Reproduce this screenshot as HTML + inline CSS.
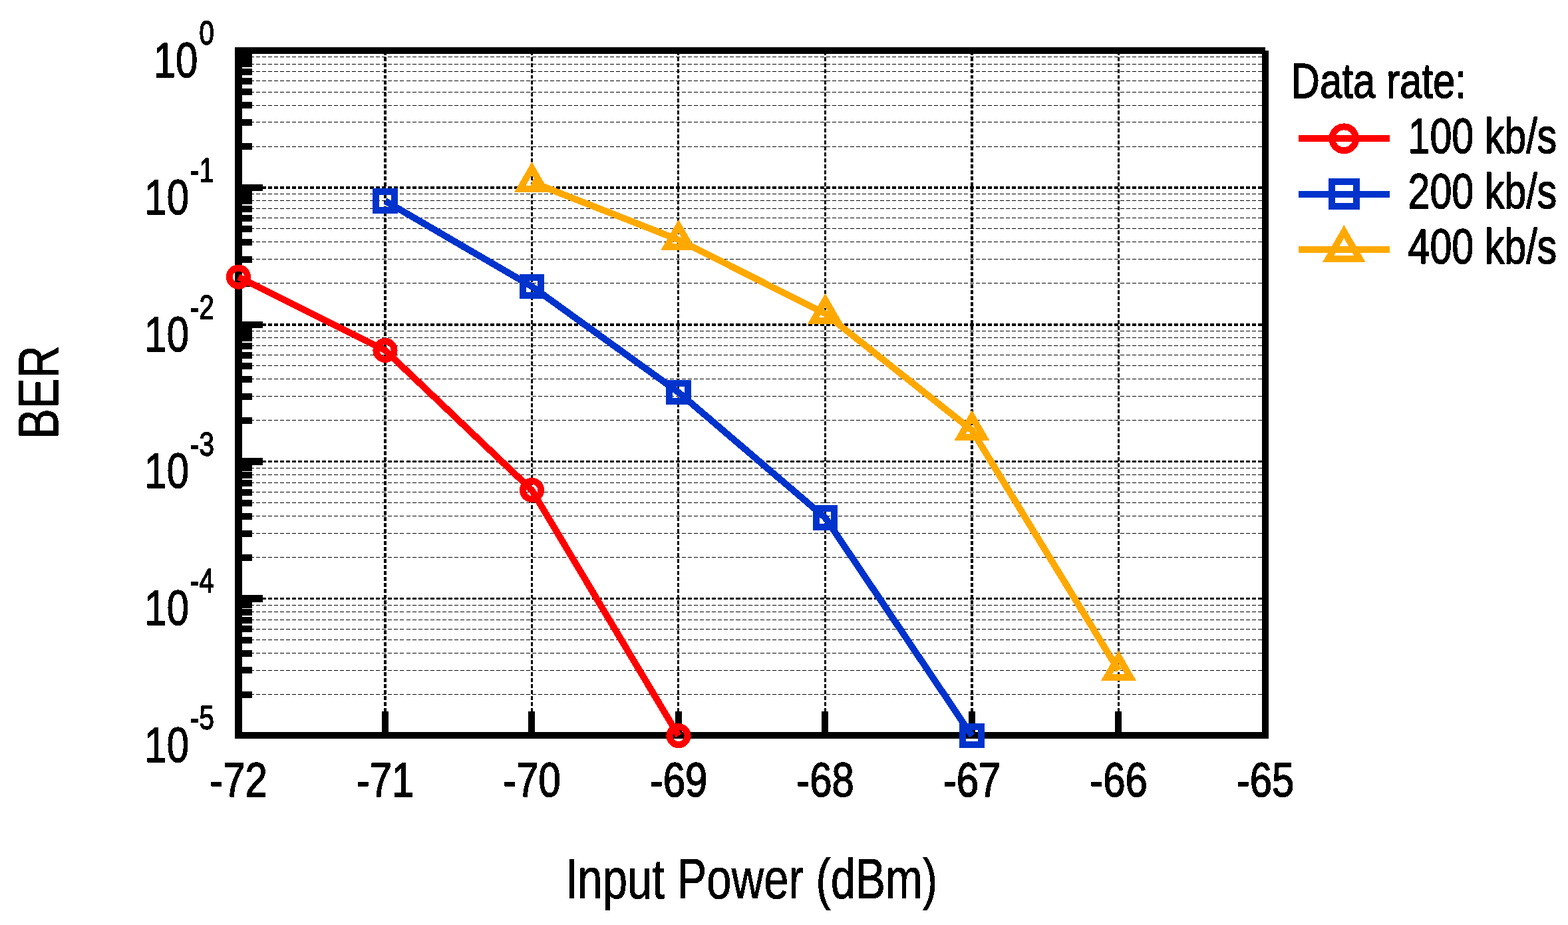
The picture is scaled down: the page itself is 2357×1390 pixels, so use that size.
<!DOCTYPE html>
<html lang="en">
<head>
<meta charset="utf-8">
<title>BER versus input power</title>
<style>
html,body{margin:0;padding:0;background:#fff;}
body{width:2357px;height:1390px;overflow:hidden;}
svg{display:block;}
text{font-family:"Liberation Sans",sans-serif;fill:#000;stroke:#000;stroke-width:1.60px;stroke-linejoin:round;}
text.ttl{stroke-width:0.90px;}
.geo{shape-rendering:crispEdges;}
</style>
</head>
<body>
<svg width="2357" height="1390" viewBox="0 0 2357 1390" role="img" aria-label="BER versus input power for three data rates">
<defs><filter id="hard" x="0" y="0" width="2357" height="1390" filterUnits="userSpaceOnUse" color-interpolation-filters="sRGB"><feComponentTransfer><feFuncA type="discrete" tableValues="0 1"/></feComponentTransfer></filter></defs>
<rect x="0" y="0" width="2357" height="1390" fill="#fff"/>
<g class="geo" fill="none" stroke="#000">
<path d="M358 220.5H1902M358 183.5H1902M358 158.5H1902M358 138.5H1902M358 121.5H1902M358 107.5H1902M358 96.5H1902M358 85.5H1902M358 425.5H1902M358 389.5H1902M358 363.5H1902M358 343.5H1902M358 327.5H1902M358 313.5H1902M358 301.5H1902M358 291.5H1902M358 631.5H1902M358 595.5H1902M358 569.5H1902M358 549.5H1902M358 533.5H1902M358 519.5H1902M358 507.5H1902M358 497.5H1902M358 837.5H1902M358 801.5H1902M358 775.5H1902M358 755.5H1902M358 739.5H1902M358 725.5H1902M358 713.5H1902M358 703.5H1902M358 1043.5H1902M358 1007.5H1902M358 981.5H1902M358 961.5H1902M358 945.5H1902M358 931.5H1902M358 919.5H1902M358 909.5H1902" stroke-width="1" stroke-dasharray="6.012 3.006"/>
<path d="M358 282.0H1902" stroke-width="4" stroke-dasharray="6.012 3.006"/>
<path d="M358 488.0H1902" stroke-width="4" stroke-dasharray="6.012 3.006"/>
<path d="M358 693.5H1902" stroke-width="3" stroke-dasharray="6.012 3.006"/>
<path d="M358 899.5H1902" stroke-width="3" stroke-dasharray="6.012 3.006"/>
<path d="M579.0 76.6V1105" stroke-width="4" stroke-dasharray="5.985 2.992"/>
<path d="M799.5 76.6V1105" stroke-width="3" stroke-dasharray="5.985 2.992"/>
<path d="M1019.5 76.6V1105" stroke-width="3" stroke-dasharray="5.985 2.992"/>
<path d="M1240.5 76.6V1105" stroke-width="3" stroke-dasharray="5.985 2.992"/>
<path d="M1461.0 76.6V1105" stroke-width="4" stroke-dasharray="5.985 2.992"/>
<path d="M1681.5 76.6V1105" stroke-width="3" stroke-dasharray="5.985 2.992"/>
</g>
<g class="geo" fill="#000" stroke="none">
<rect x="353" y="71" width="11" height="1039"/>
<rect x="353" y="71" width="1549" height="10"/>
<rect x="353" y="1100" width="1554" height="10"/>
<rect x="1897" y="76" width="10" height="1034"/>
<rect x="364" y="215" width="15" height="10"/>
<rect x="364" y="179" width="15" height="10"/>
<rect x="364" y="153" width="15" height="10"/>
<rect x="364" y="133" width="15" height="10"/>
<rect x="364" y="117" width="15" height="10"/>
<rect x="364" y="103" width="15" height="10"/>
<rect x="364" y="91" width="15" height="10"/>
<rect x="364" y="81" width="15" height="10"/>
<rect x="364" y="421" width="15" height="10"/>
<rect x="364" y="385" width="15" height="10"/>
<rect x="364" y="359" width="15" height="10"/>
<rect x="364" y="339" width="15" height="10"/>
<rect x="364" y="323" width="15" height="10"/>
<rect x="364" y="309" width="15" height="10"/>
<rect x="364" y="297" width="15" height="10"/>
<rect x="364" y="287" width="15" height="10"/>
<rect x="364" y="627" width="15" height="10"/>
<rect x="364" y="591" width="15" height="10"/>
<rect x="364" y="565" width="15" height="10"/>
<rect x="364" y="545" width="15" height="10"/>
<rect x="364" y="529" width="15" height="10"/>
<rect x="364" y="515" width="15" height="10"/>
<rect x="364" y="503" width="15" height="10"/>
<rect x="364" y="493" width="15" height="10"/>
<rect x="364" y="833" width="15" height="10"/>
<rect x="364" y="797" width="15" height="10"/>
<rect x="364" y="771" width="15" height="10"/>
<rect x="364" y="751" width="15" height="10"/>
<rect x="364" y="735" width="15" height="10"/>
<rect x="364" y="721" width="15" height="10"/>
<rect x="364" y="709" width="15" height="10"/>
<rect x="364" y="698" width="15" height="10"/>
<rect x="364" y="1039" width="15" height="10"/>
<rect x="364" y="1002" width="15" height="10"/>
<rect x="364" y="977" width="15" height="10"/>
<rect x="364" y="957" width="15" height="10"/>
<rect x="364" y="940" width="15" height="10"/>
<rect x="364" y="927" width="15" height="10"/>
<rect x="364" y="915" width="15" height="10"/>
<rect x="364" y="904" width="15" height="10"/>
<rect x="364" y="277" width="31" height="10"/>
<rect x="364" y="483" width="31" height="10"/>
<rect x="364" y="688" width="31" height="11"/>
<rect x="364" y="894" width="31" height="11"/>
<rect x="574" y="1069" width="10" height="31"/>
<rect x="794" y="1069" width="10" height="31"/>
<rect x="1015" y="1069" width="10" height="31"/>
<rect x="1235" y="1069" width="10" height="31"/>
<rect x="1456" y="1069" width="10" height="31"/>
<rect x="1676" y="1069" width="10" height="31"/>
</g>
<g class="geo" id="series-100">
<polyline points="358.5,416.1 579.0,526.4 799.5,736.5 1020.0,1105.6" fill="none" stroke="#ff0000" stroke-width="10" stroke-linecap="butt" stroke-linejoin="round"/>
<circle cx="358.5" cy="416.1" r="13.60" fill="none" stroke="#ff0000" stroke-width="10"/>
<circle cx="579.0" cy="526.4" r="13.60" fill="none" stroke="#ff0000" stroke-width="10"/>
<circle cx="799.5" cy="736.5" r="13.60" fill="none" stroke="#ff0000" stroke-width="10"/>
<circle cx="1020.0" cy="1105.6" r="13.60" fill="none" stroke="#ff0000" stroke-width="10"/>
</g>
<g class="geo" id="series-200">
<polyline points="579.0,302.0 799.5,430.5 1020.0,589.6 1240.5,778.0 1461.0,1105.6" fill="none" stroke="#0033cc" stroke-width="10" stroke-linecap="butt" stroke-linejoin="round"/>
<rect x="565.25" y="288.25" width="27.50" height="27.50" fill="none" stroke="#0033cc" stroke-width="10" stroke-linejoin="miter"/>
<rect x="785.75" y="416.75" width="27.50" height="27.50" fill="none" stroke="#0033cc" stroke-width="10" stroke-linejoin="miter"/>
<rect x="1006.25" y="575.85" width="27.50" height="27.50" fill="none" stroke="#0033cc" stroke-width="10" stroke-linejoin="miter"/>
<rect x="1226.75" y="764.25" width="27.50" height="27.50" fill="none" stroke="#0033cc" stroke-width="10" stroke-linejoin="miter"/>
<rect x="1447.25" y="1091.85" width="27.50" height="27.50" fill="none" stroke="#0033cc" stroke-width="10" stroke-linejoin="miter"/>
</g>
<g class="geo" id="series-400">
<polyline points="799.5,273.6 1020.0,360.4 1240.5,471.4 1461.0,646.5 1681.5,1007.5" fill="none" stroke="#ffa900" stroke-width="10" stroke-linecap="butt" stroke-linejoin="round"/>
<path d="M799.50 253.00L817.34 283.90L781.66 283.90Z" fill="none" stroke="#ffa900" stroke-width="10" stroke-linejoin="miter" stroke-miterlimit="10"/>
<path d="M1020.00 339.80L1037.84 370.70L1002.16 370.70Z" fill="none" stroke="#ffa900" stroke-width="10" stroke-linejoin="miter" stroke-miterlimit="10"/>
<path d="M1240.50 450.80L1258.34 481.70L1222.66 481.70Z" fill="none" stroke="#ffa900" stroke-width="10" stroke-linejoin="miter" stroke-miterlimit="10"/>
<path d="M1461.00 625.90L1478.84 656.80L1443.16 656.80Z" fill="none" stroke="#ffa900" stroke-width="10" stroke-linejoin="miter" stroke-miterlimit="10"/>
<path d="M1681.50 986.90L1699.34 1017.80L1663.66 1017.80Z" fill="none" stroke="#ffa900" stroke-width="10" stroke-linejoin="miter" stroke-miterlimit="10"/>
</g>
<g class="geo" id="legend-keys">
<path d="M1952.0 208.0H2089.0" fill="none" stroke="#ff0000" stroke-width="10"/>
<circle cx="2020.3" cy="208.3" r="17.90" fill="none" stroke="#ff0000" stroke-width="10"/>
<path d="M1952.0 292.0H2089.0" fill="none" stroke="#0033cc" stroke-width="10"/>
<rect x="2001.80" y="272.90" width="37.00" height="37.00" fill="none" stroke="#0033cc" stroke-width="10" stroke-linejoin="miter"/>
<path d="M1952.0 375.0H2089.0" fill="none" stroke="#ffa900" stroke-width="10"/>
<path d="M2020.30 348.10L2043.86 388.90L1996.74 388.90Z" fill="none" stroke="#ffa900" stroke-width="10" stroke-linejoin="miter" stroke-miterlimit="10"/>
</g>
<g id="text" filter="url(#hard)">
<g id="y-tick-labels">
<text transform="translate(321.80 116.00) scale(0.8125 1)" font-size="73.85" text-anchor="end">10<tspan font-size="49.40" dx="2.6" dy="-48.9">0</tspan></text>
<text transform="translate(321.80 321.80) scale(0.8125 1)" font-size="73.85" text-anchor="end">10<tspan font-size="49.40" dx="2.6" dy="-48.9">-1</tspan></text>
<text transform="translate(321.80 527.60) scale(0.8125 1)" font-size="73.85" text-anchor="end">10<tspan font-size="49.40" dx="2.6" dy="-48.9">-2</tspan></text>
<text transform="translate(321.80 733.40) scale(0.8125 1)" font-size="73.85" text-anchor="end">10<tspan font-size="49.40" dx="2.6" dy="-48.9">-3</tspan></text>
<text transform="translate(321.80 939.20) scale(0.8125 1)" font-size="73.85" text-anchor="end">10<tspan font-size="49.40" dx="2.6" dy="-48.9">-4</tspan></text>
<text transform="translate(321.80 1145.00) scale(0.8125 1)" font-size="73.85" text-anchor="end">10<tspan font-size="49.40" dx="2.6" dy="-48.9">-5</tspan></text>
</g>
<g id="x-tick-labels">
<text transform="translate(358.50 1197.10) scale(0.8276 1)" font-size="72.50" text-anchor="middle">-72</text>
<text transform="translate(579.00 1197.10) scale(0.8276 1)" font-size="72.50" text-anchor="middle">-71</text>
<text transform="translate(799.50 1197.10) scale(0.8276 1)" font-size="72.50" text-anchor="middle">-70</text>
<text transform="translate(1020.00 1197.10) scale(0.8276 1)" font-size="72.50" text-anchor="middle">-69</text>
<text transform="translate(1240.50 1197.10) scale(0.8276 1)" font-size="72.50" text-anchor="middle">-68</text>
<text transform="translate(1461.00 1197.10) scale(0.8276 1)" font-size="72.50" text-anchor="middle">-67</text>
<text transform="translate(1681.50 1197.10) scale(0.8276 1)" font-size="72.50" text-anchor="middle">-66</text>
<text transform="translate(1902.00 1197.10) scale(0.8276 1)" font-size="72.50" text-anchor="middle">-65</text>
</g>
<g id="axis-titles">
<text transform="translate(1129.40 1350.30) scale(0.7896 1)" font-size="85.00" text-anchor="middle" class="ttl">Input Power (dBm)</text>
<text transform="translate(87.30 589.30) rotate(-90) scale(0.8050 1)" font-size="85.00" text-anchor="middle" class="ttl">BER</text>
</g>
<g id="legend-labels">
<text transform="translate(1940.60 146.90) scale(0.8130 1)" font-size="73.80" text-anchor="start">Data rate:</text>
<text transform="translate(2116.50 229.70) scale(0.8020 1)" font-size="73.80" text-anchor="start">100 kb/s</text>
<text transform="translate(2116.50 312.70) scale(0.8020 1)" font-size="73.80" text-anchor="start">200 kb/s</text>
<text transform="translate(2116.50 396.30) scale(0.8020 1)" font-size="73.80" text-anchor="start">400 kb/s</text>
</g>
</g>
</svg>
</body>
</html>
